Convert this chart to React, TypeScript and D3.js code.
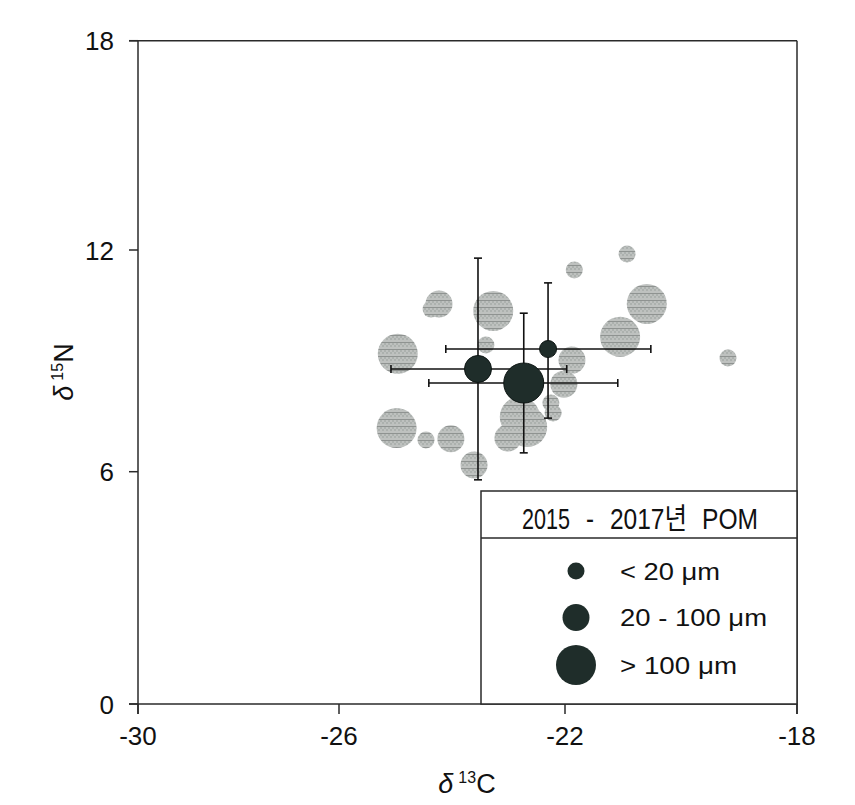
import React from "react";
import * as d3 from "d3";

// ---- data ----
const xTicks = [-30, -26, -22, -18];
const yTicks = [0, 6, 12, 18];
// axis positions of the tick values as drawn in the reference (piecewise)
const xTickPos = [138, 339, 565, 797];
const yTickPos = [704, 471.7, 250, 40.7];

// individual samples: d13C, d15N, size class
const sampleX = [-21.84, -20.93, -24.23, -24.37, -23.27, -23.4, -24.96, -21.88, -22.02, -22.25, -22.21, -22.8, -22.67, -23.01, -22.88, -24.98, -24.46, -24.02, -23.61, -20.59, -21.05, -19.19];
const sampleY = [11.46, 11.89, 10.54, 10.4, 10.35, 9.43, 9.19, 9.02, 8.37, 7.86, 7.59, 7.48, 7.21, 6.91, 7.13, 7.18, 6.86, 6.89, 6.18, 10.54, 9.65, 9.08];
const sampleSize = ["s", "s", "m", "s", "l", "s", "l", "m", "m", "s", "s", "l", "l", "m", "s", "l", "s", "m", "m", "l", "l", "s"];

// size-class means with error ranges
const meanSize = ["s", "m", "l"];
const meanX = [-22.3, -23.54, -22.73];
const meanY = [9.32, 8.78, 8.4];
const meanXLow = [-24.11, -25.08, -24.41];
const meanXHigh = [-20.52, -21.97, -21.09];
const meanYLow = [7.45, 5.79, 6.51];
const meanYHigh = [11.11, 11.78, 10.29];

const sizeClasses = ["s", "m", "l"];
const legendLabels = ["< 20 μm", "20 - 100 μm", "> 100 μm"];
const legendTitleParts = ["2015", "-", "2017년", "POM"];

export default function App() {
  const x = d3.scaleLinear().domain(xTicks).range(xTickPos);
  const y = d3.scaleLinear().domain(yTicks).range(yTickPos);
  const r = d3.scaleOrdinal<string, number>().domain(sizeClasses).range([8.5, 13.5, 20]);

  const font = "'Liberation Sans', Arial, 'Noto Sans CJK KR', sans-serif";
  const axisColor = "#2a2a2a";
  const dark = "#1f2d2a";
  const x0 = x(-30), x1 = x(-18), yBottom = y(0), yTop = y(18);
  const cap = 4;
  const titleX = [522, 586, 610, 702];
  const titleW = [48, 8, 77, 56];

  return (
    <svg width={855} height={805} style={{ position: "absolute", left: 0, top: 0, background: "#fff" }} fontFamily={font}>
      <defs>
        <pattern id="halftone" patternUnits="userSpaceOnUse" width={4} height={7}>
          <rect width={4} height={7} fill="#b0b4b2" />
          <rect x={0} y={0} width={2} height={2} fill="#9aa09d" />
          <rect x={2} y={2} width={2} height={2} fill="#9aa09d" />
          <rect x={0} y={6} width={4} height={1} fill="#777c7a" />
        </pattern>
      </defs>

      {/* frame */}
      <line x1={x0 - 9} x2={x1} y1={yTop} y2={yTop} stroke={axisColor} strokeWidth={1.5} />
      <line x1={x1} x2={x1} y1={yTop} y2={yBottom + 10} stroke={axisColor} strokeWidth={1.5} />
      <line x1={x0} x2={x0} y1={yTop} y2={yBottom + 10} stroke={axisColor} strokeWidth={1.5} />
      <line x1={x0 - 9} x2={x1} y1={yBottom} y2={yBottom} stroke={axisColor} strokeWidth={1.5} />

      {/* x ticks */}
      {xTicks.map((t) => (
        <g key={"xt" + t}>
          <line x1={x(t)} x2={x(t)} y1={yBottom} y2={yBottom + 10} stroke={axisColor} strokeWidth={1.5} />
          <text x={x(t)} y={745} textAnchor="middle" fontSize={26} fill="#111">{t}</text>
        </g>
      ))}
      {/* y ticks */}
      {yTicks.map((t) => (
        <g key={"yt" + t}>
          <line x1={x0 - 9} x2={x0} y1={y(t)} y2={y(t)} stroke={axisColor} strokeWidth={1.5} />
          <text x={114} y={y(t) + 9.5} textAnchor="end" fontSize={26} fill="#111">{t}</text>
        </g>
      ))}

      {/* axis titles */}
      <text x={467} y={793} textAnchor="middle" fontSize={27} fill="#111">
        <tspan fontStyle="italic">δ</tspan>
        <tspan fontSize={16} dx={5} dy={-10}>13</tspan>
        <tspan dy={10}>C</tspan>
      </text>
      <text transform="translate(73,372) rotate(-90)" textAnchor="middle" fontSize={27} fill="#111">
        <tspan fontStyle="italic">δ</tspan>
        <tspan fontSize={16} dx={5} dy={-10}>15</tspan>
        <tspan dy={10}>N</tspan>
      </text>

      {/* samples */}
      <g opacity={0.82}>
        {sampleX.map((v, i) => (
          <circle key={"s" + i} cx={x(v)} cy={y(sampleY[i])} r={r(sampleSize[i])} fill="url(#halftone)" />
        ))}
      </g>

      {/* error bars */}
      {meanX.map((v, i) => (
        <g key={"e" + i} stroke="#111" strokeWidth={1.6}>
          <line x1={x(meanXLow[i])} x2={x(meanXHigh[i])} y1={y(meanY[i])} y2={y(meanY[i])} />
          <line x1={x(meanXLow[i])} x2={x(meanXLow[i])} y1={y(meanY[i]) - cap} y2={y(meanY[i]) + cap} />
          <line x1={x(meanXHigh[i])} x2={x(meanXHigh[i])} y1={y(meanY[i]) - cap} y2={y(meanY[i]) + cap} />
          <line x1={x(v)} x2={x(v)} y1={y(meanYLow[i])} y2={y(meanYHigh[i])} />
          <line x1={x(v) - cap} x2={x(v) + cap} y1={y(meanYLow[i])} y2={y(meanYLow[i])} />
          <line x1={x(v) - cap} x2={x(v) + cap} y1={y(meanYHigh[i])} y2={y(meanYHigh[i])} />
        </g>
      ))}
      {meanX.map((v, i) => (
        <circle key={"m" + i} cx={x(v)} cy={y(meanY[i])} r={r(meanSize[i])} fill={dark} stroke="#0d1513" strokeWidth={1} />
      ))}

      {/* legend */}
      <g>
        <rect x={481} y={491} width={x1 - 481} height={yBottom - 491} fill="#fff" stroke={axisColor} strokeWidth={1.5} />
        <line x1={481} x2={x1} y1={538} y2={538} stroke={axisColor} strokeWidth={1.5} />
        <text y={529} fontSize={29} fill="#111">
          {legendTitleParts.map((p, i) => (
            <tspan key={"tp" + i} x={titleX[i]} textLength={titleW[i]} lengthAdjust="spacingAndGlyphs">{p}</tspan>
          ))}
        </text>
        {sizeClasses.map((c, i) => {
          const cy = [571, 617.5, 665][i];
          const tl = [100, 147, 117][i];
          return (
            <g key={"lg" + c}>
              <circle cx={576} cy={cy} r={r(c)} fill={dark} />
              <text x={620} y={cy + 8.5} fontSize={24} textLength={tl} lengthAdjust="spacingAndGlyphs" fill="#111">{legendLabels[i]}</text>
            </g>
          );
        })}
      </g>
    </svg>
  );
}
